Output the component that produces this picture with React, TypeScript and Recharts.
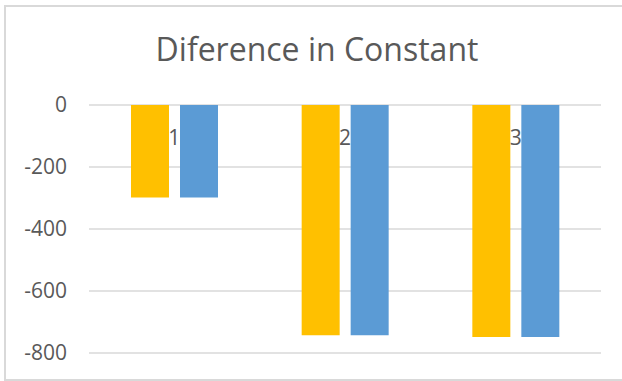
import React from 'react';
import { BarChart, Bar, XAxis, YAxis, CartesianGrid } from 'recharts';

const categories = ['1', '2', '3'];
const seriesA = [-298, -743, -748];
const seriesB = [-298, -743, -748];
const yTicks = [0, -200, -400, -600, -800];
const title = 'Diference in Constant';

const data = categories.map((c, i) => ({ name: c, a: seriesA[i], b: seriesB[i] }));

const FONT = '"Open Sans", "Liberation Sans", sans-serif';
const TEXT = '#595959';

const CatTick = (props: any) => {
  const { x, y, payload } = props;
  return (
    <g>
      <text x={x} y={y} dy={40} textAnchor="middle" fill={TEXT} fontSize={21} fontFamily={FONT}>
        {payload.value}
      </text>
    </g>
  );
};

export default function App() {
  return (
    <div style={{ position: 'absolute', left: 0, top: 0, width: 622, height: 381, background: '#fff' }}>
      <BarChart
        width={622}
        height={381}
        data={data}
        margin={{ top: 104, right: 21, bottom: 28, left: 1 }}
        barSize={38}
        barGap={11}
      >
        <CartesianGrid horizontal vertical={false} stroke="#d9d9d9" strokeWidth={1.5} />
        <XAxis
          dataKey="name"
          orientation="top"
          height={1}
          axisLine={false}
          tickLine={false}
          tickSize={0}
          tickMargin={0}
          interval={0}
          tick={CatTick}
        />
        <YAxis
          domain={[-800, 0]}
          ticks={yTicks}
          width={88}
          axisLine={false}
          tickLine={false}
          tickSize={0}
          tickMargin={22}
          tick={{ fill: TEXT, fontSize: 21, fontFamily: FONT }}
        />
        <Bar dataKey="a" fill="#FFC000" isAnimationActive={false} />
        <Bar dataKey="b" fill="#5B9BD5" isAnimationActive={false} />
      </BarChart>
      <svg
        width={622}
        height={381}
        style={{ position: 'absolute', left: 0, top: 0, pointerEvents: 'none' }}
      >
        <rect x={5} y={6} width={700} height={374} fill="none" stroke="#d9d9d9" strokeWidth={2} />
        <text x={317} y={61} textAnchor="middle" fill={TEXT} fontSize={32} fontFamily={FONT}>
          {title}
        </text>
      </svg>
    </div>
  );
}
